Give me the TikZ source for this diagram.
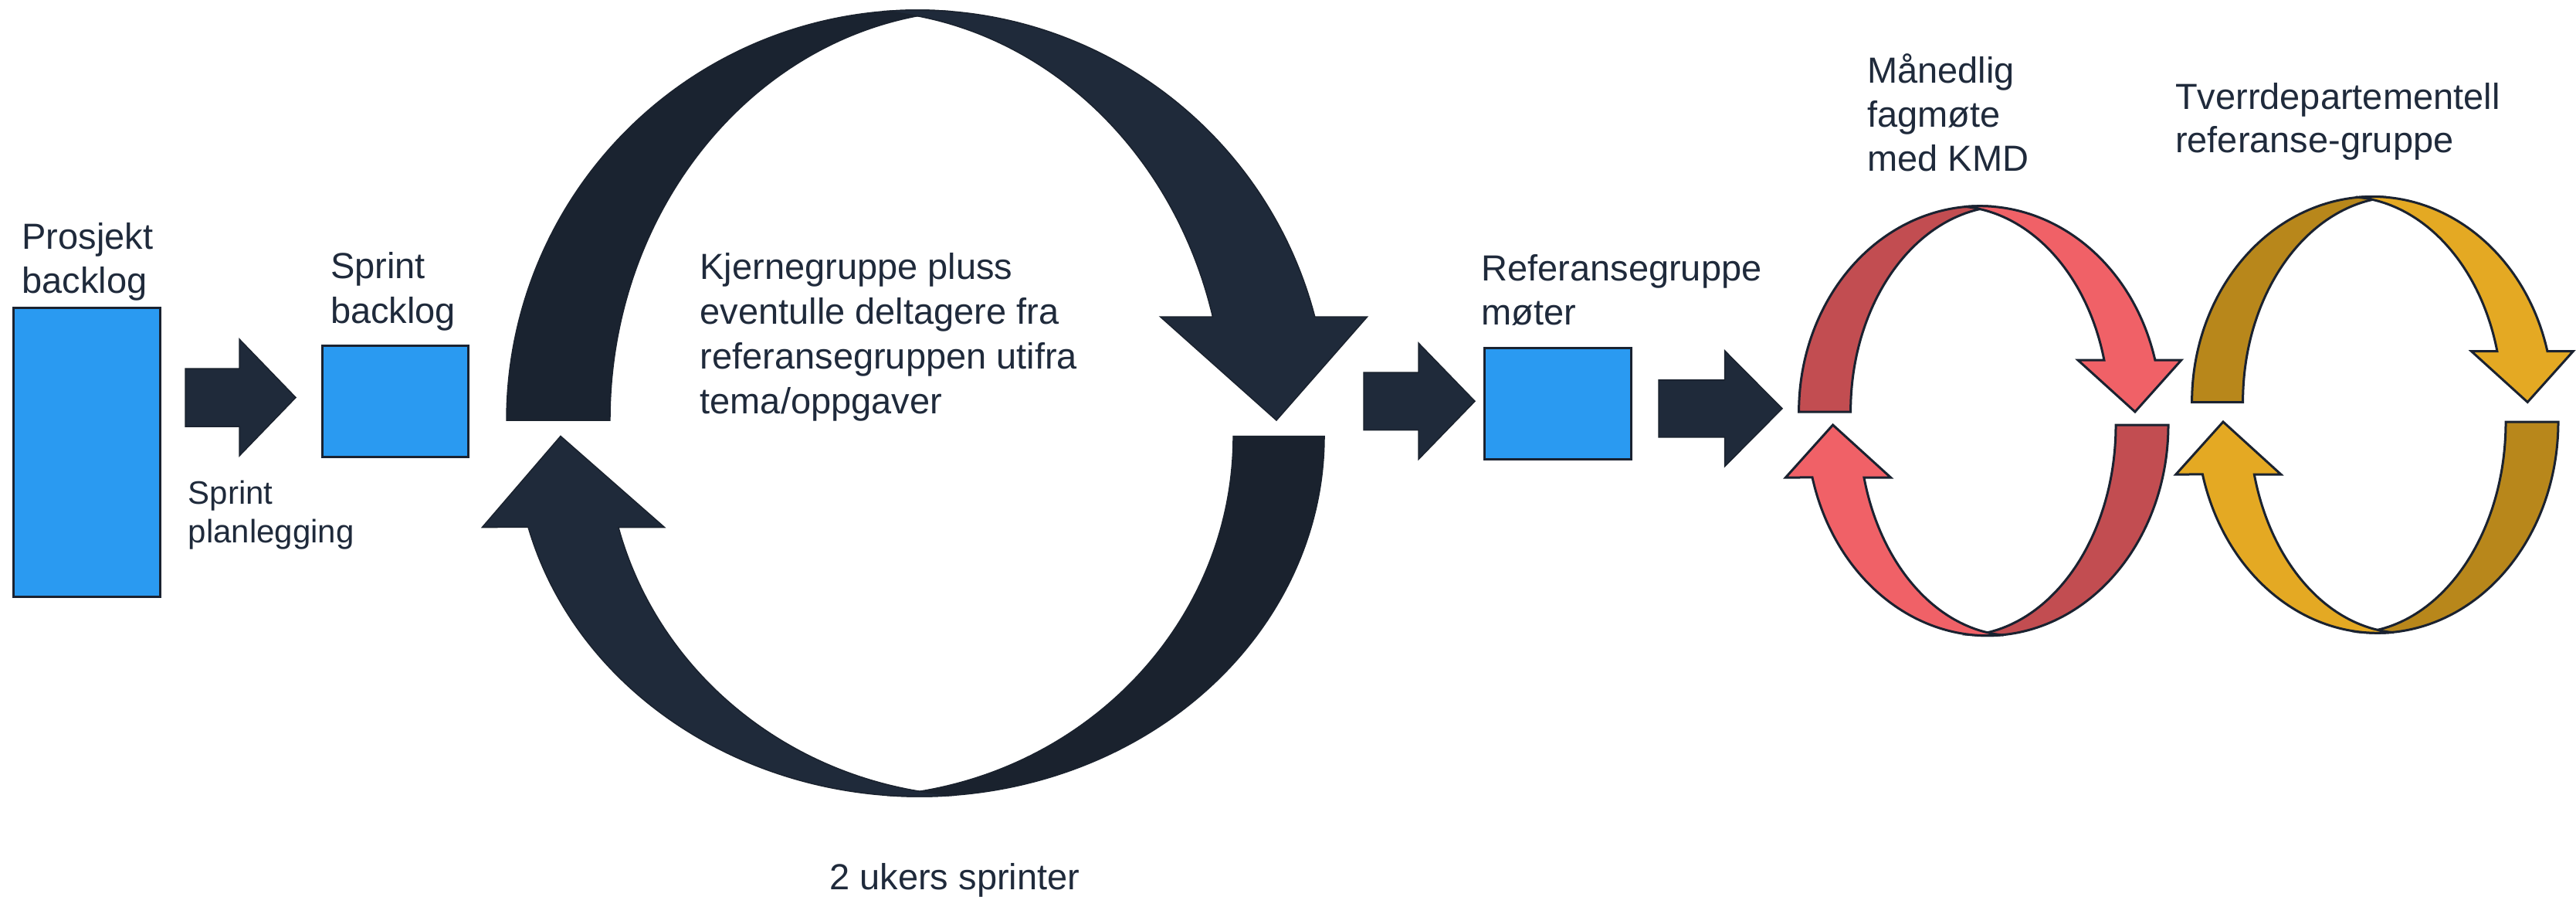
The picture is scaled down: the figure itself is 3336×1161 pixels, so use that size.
\documentclass[tikz,border=0pt]{standalone}
\usepackage{fontspec}
\setmainfont{Liberation Sans}
\definecolor{navy}{HTML}{1F2A3A}
\definecolor{navydk}{HTML}{1A222E}
\definecolor{navyback}{HTML}{1A2330}
\definecolor{edge}{HTML}{1A2230}
\definecolor{txt}{HTML}{1F2A3B}
\definecolor{boxblue}{HTML}{2A9AF1}
\definecolor{reddk}{HTML}{C24D51}
\definecolor{redlt}{HTML}{F06167}
\definecolor{yeldk}{HTML}{B8871B}
\definecolor{yellt}{HTML}{E4A923}
% half loop: #1 cx, #2 cy (foot line), #3 outer x radius, #4 outer y radius,
% #5 band width, #6 rotation, #7 back colour, #8 front colour, #9 style
\newcommand\halfloop[9]{%
  \pgfmathsetmacro\hlai{(#3-#5)/0.83}%
  \pgfmathsetmacro\hls{0.17*\hlai}%
  \pgfmathsetmacro\hlxi{\hls/(1+\hlai/#3)}%
  \pgfmathsetmacro\hlto{acos(\hlxi/#3)}%
  \pgfmathsetmacro\hlyi{#4*sin(\hlto)}%
  \pgfmathsetmacro\hlti{acos((\hlxi-\hls)/\hlai)}%
  \pgfmathsetmacro\hltb{asin(#5/#4)}%
  \pgfmathsetmacro\hlxo{#3*cos(\hltb)}%
  \pgfmathsetmacro\hlxn{-\hls+\hlai*cos(\hltb)}%
  \pgfmathsetmacro\hlcb{(\hlxo+\hlxn)/2}%
  \begin{scope}[shift={(#1,#2)}, yscale=-1, rotate=#6, #9]
    \filldraw[fill=#7] (-#3,0)
      arc[start angle=180, end angle=\hlto, x radius=#3, y radius=#4]
      arc[start angle=\hlti, end angle=180, x radius=\hlai, y radius=#4] -- cycle;
    \filldraw[fill=#8] (-\hlxi,\hlyi)
      arc[start angle={180-\hlto}, end angle=\hltb, x radius=#3, y radius=#4]
      -- ({\hlcb+#5},#5) -- ({#3-#5/2},0) -- ({\hlcb-#5},#5) -- (\hlxn,#5)
      arc[start angle=\hltb, end angle={180-\hlti}, x radius=\hlai, y radius=#4] -- cycle;
  \end{scope}}
% block arrow: #1 x start, #2 x head base, #3 x tip, #4 y middle, #5 shaft half height, #6 head half height
\newcommand\blockarrow[6]{%
  \filldraw[blockarrowstyle] (#1,{#4-#5}) -- (#2,{#4-#5}) -- (#2,{#4-#6}) -- (#3,#4)
    -- (#2,{#4+#6}) -- (#2,{#4+#5}) -- (#1,{#4+#5}) -- cycle;}
% anchor at the baseline of the LAST line
\tikzset{
  lbl/.style={anchor=base west, inner sep=0pt, outer sep=0pt, align=left, text=txt,
    font=\fontsize{47}{57.5}\selectfont},
  box/.style={draw=edge, line width=3pt, fill=boxblue, inner sep=0pt, outer sep=0pt},
  blockarrowstyle/.style={fill=navy, draw=navydk, line width=1.5pt},
  navyloop/.style={draw=navydk, line width=1.5pt},
  colourloop/.style={draw=edge, line width=3pt},
}
\begin{document}
\begin{tikzpicture}[x=1pt, y=-1pt]
  \useasboundingbox (0,0) rectangle (3336,1161);
  \fill[white] (0,0) rectangle (3336,1161);

  % boxes
  \node[box, minimum width=190pt, minimum height=374pt] (prosjektbox) at (112,585.5) {};
  \node[box, minimum width=189pt, minimum height=144pt] (sprintbox) at (512,519.5) {};
  \node[box, minimum width=190pt, minimum height=144pt] (refbox) at (2017.5,522.5) {};

  % block arrows
  \blockarrow{240}{310}{383}{514.5}{37.5}{75.5}
  \blockarrow{1766}{1837}{1910}{519.3}{37.3}{75.3}
  \blockarrow{2148}{2233.5}{2308}{528.8}{37}{75}

  % big sprint loop
  \halfloop{1188}{544}{532}{531}{134}{0}{navyback}{navy}{navyloop}
  \halfloop{1191}{564.5}{524}{466.5}{118}{180}{navydk}{navy}{navyloop}

  % red loop
  \halfloop{2564}{533}{234.4}{266.3}{67}{0}{reddk}{redlt}{colourloop}
  \halfloop{2573.8}{550}{234.2}{272.7}{68}{180}{reddk}{redlt}{colourloop}

  % yellow loop
  \halfloop{3072.4}{520.5}{233.8}{266}{66}{0}{yeldk}{yellt}{colourloop}
  \halfloop{3079}{546}{234}{273.3}{68}{180}{yeldk}{yellt}{colourloop}

  % labels
  \node[lbl] (prosjekt) at (28.4,379.5) {Prosjekt\\backlog};
  \node[lbl, font=\fontsize{47}{58}\selectfont] (sprintlbl) at (428,418) {Sprint\\backlog};
  \node[lbl, font=\fontsize{42}{50}\selectfont] (planlbl) at (243.7,702.7) {Sprint\\planlegging};
  \node[lbl, font=\fontsize{47}{58}\selectfont] (kjerne) at (906.6,535.6) {Kjernegruppe pluss\\eventulle deltagere fra\\referansegruppen utifra\\tema/oppgaver};
  \node[lbl] (ukers) at (1074.4,1151) {2 ukers sprinter};
  \node[lbl, font=\fontsize{47}{57}\selectfont] (reflbl) at (1918.3,420.3) {Referansegruppe\\møter};
  \node[lbl, font=\fontsize{47}{57}\selectfont] (mnd) at (2418.2,221.2) {Månedlig\\fagmøte\\med KMD};
  \node[lbl, font=\fontsize{47}{55.5}\selectfont] (tverr) at (2817,197.1) {Tverrdepartementell\\referanse-gruppe};
\end{tikzpicture}
\end{document}
